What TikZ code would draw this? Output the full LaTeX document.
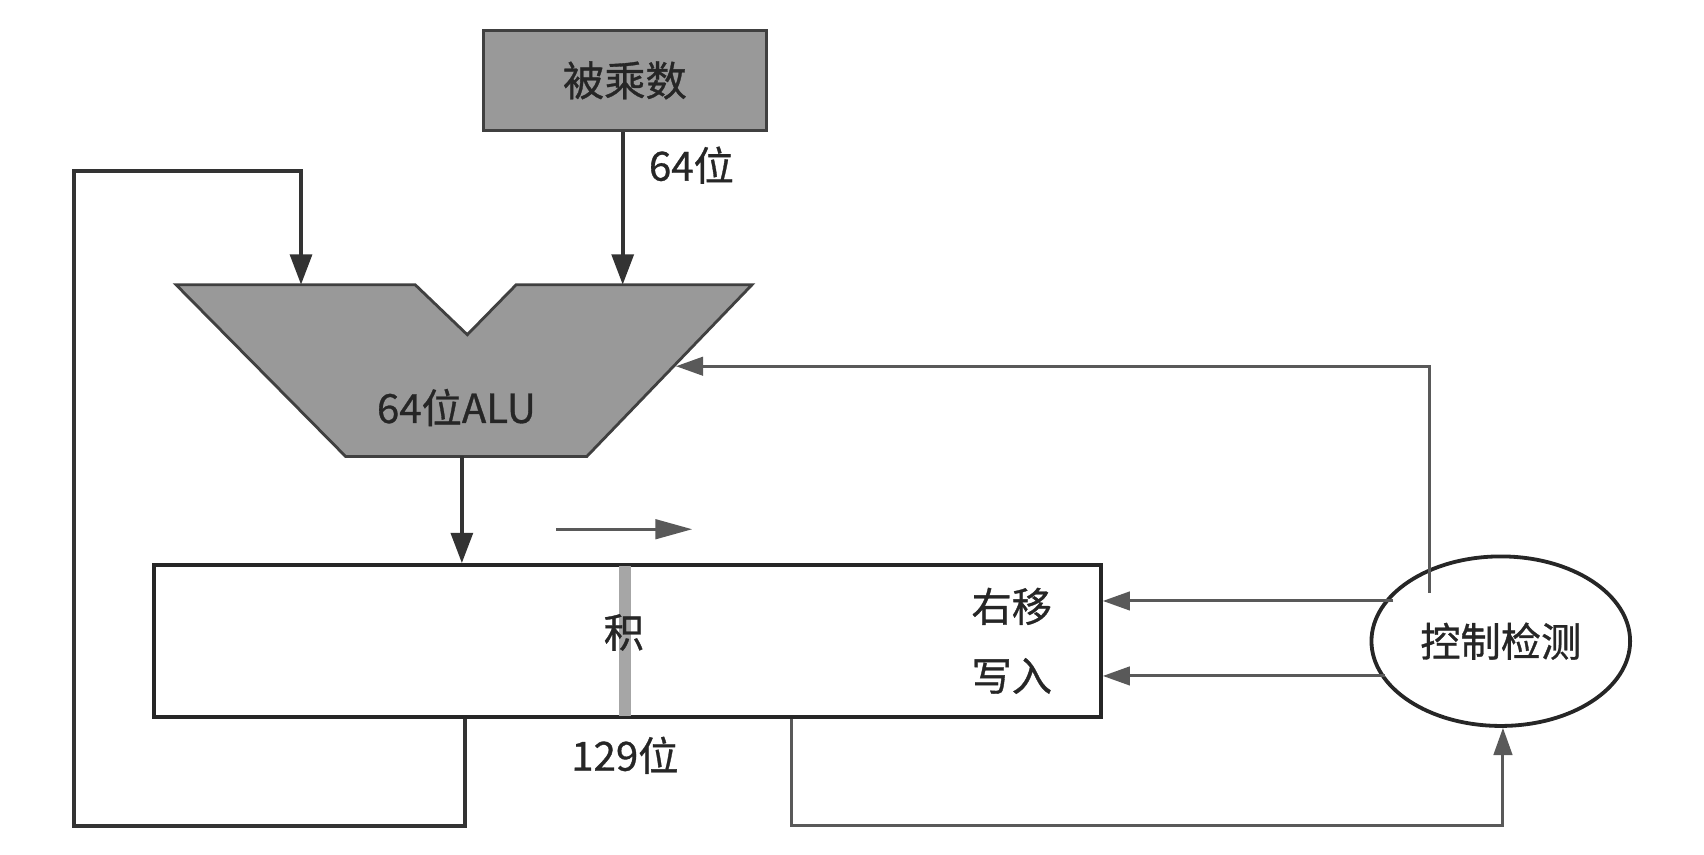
\documentclass[tikz,border=0pt]{standalone}
\usepackage{fontspec}
\setmainfont{Noto Sans CJK SC}[FakeBold=0.8]
\usetikzlibrary{arrows.meta,shapes.geometric}
\begin{document}
\begin{tikzpicture}[x=1pt,y=-1pt,
  dk/.style={draw=black!80,line width=3.8pt},
  lt/.style={draw=black!65,line width=2.8pt},
  dkarrow/.style={dk,-{Triangle[length=28pt,width=20pt]}},
  ltarrow/.style={lt,-{Triangle[length=25pt,width=17pt]}},
  gfill/.style={fill=black!40},
  lbl/.style={font=\fontsize{37}{40}\selectfont,text=black!85,inner sep=0pt}]
\useasboundingbox (0,0) rectangle (1568,786);
% multiplicand
\node[draw=black!75,line width=3pt,gfill,minimum width=260pt,minimum height=92pt,inner sep=0pt,
      font=\fontsize{38}{40}\selectfont,text=black!85] (mc) at (575,74) {被乘数};
% ALU
\coordinate (aluTL) at (162,262);
\coordinate (aluN1) at (382,262);
\coordinate (aluNB) at (430,308);
\coordinate (aluN2) at (475,262);
\coordinate (aluTR) at (692,262);
\coordinate (aluBR) at (540,420);
\coordinate (aluBL) at (318,420);
\draw[draw=black!75,line width=2.6pt,gfill,line join=miter]
  (aluTL) -- (aluN1) -- (aluNB) -- (aluN2) -- (aluTR) -- (aluBR) -- (aluBL) -- cycle;
\node[lbl] (alutext) at (420,375) {64位ALU};
\coordinate (aluInR) at (573,262);
\coordinate (aluInL) at (277,262);
\coordinate (aluOut) at (425,420);
\coordinate (aluCtl) at (622,337);
% product
\node[draw=black!85,line width=3.5pt,fill=white,minimum width=871pt,minimum height=140pt,inner sep=0pt] (prod) at (577.5,590) {};
\fill[black!35] (570,521) rectangle (581,659);
\node[lbl] (ji) at (574,582) {积};
\node[lbl] (ys) at (931,558) {右移};
\node[lbl] (xr) at (931,622) {写入};
\node[lbl] (w129) at (575,695) {129位};
% control
\node[ellipse,draw=black!85,line width=3.5pt,minimum width=238pt,minimum height=156pt,inner sep=0pt,
      font=\fontsize{37}{40}\selectfont,text=black!85] (ctl) at (1381,590) {控制检测};
% multiplicand -> ALU
\draw[dkarrow] (mc.south -| aluInR) -- (aluInR);
\node[lbl,anchor=west] (w64) at (597,152) {64位};
% ALU -> product
\draw[dkarrow] (aluOut) -- (aluOut |- prod.north);
% left feedback loop
\coordinate (lpA) at (428,760);
\coordinate (lpB) at (68,760);
\coordinate (lpC) at (68,157);
\coordinate (lpD) at (277,157);
\draw[dkarrow,line join=miter] (428,0 |- prod.south) -- (lpA) -- (lpB) -- (lpC) -- (lpD) -- (aluInL);
% shift arrow
\coordinate (shA) at (512,487);
\coordinate (shB) at (637,487);
\draw[lt,-{Triangle[length=34pt,width=18pt]}] (shA) -- (shB);
% control -> ALU
\coordinate (cuA) at (1315,337);
\draw[ltarrow] (ctl.north west -| cuA) ++(0,12) -- (cuA) -- (aluCtl);
% control -> product
\draw[ltarrow] (ctl.west |- 0,553) ++(22,0) -- (prod.east |- 0,553);
\draw[ltarrow] (ctl.west |- 0,622) ++(14,0) -- (prod.east |- 0,622);
% product -> control
\coordinate (pcA) at (728,760);
\coordinate (pcB) at (1383,760);
\draw[ltarrow] (728,0 |- prod.south) -- (pcA) -- (pcB) -- (ctl.south -| pcB);
\end{tikzpicture}
\end{document}
